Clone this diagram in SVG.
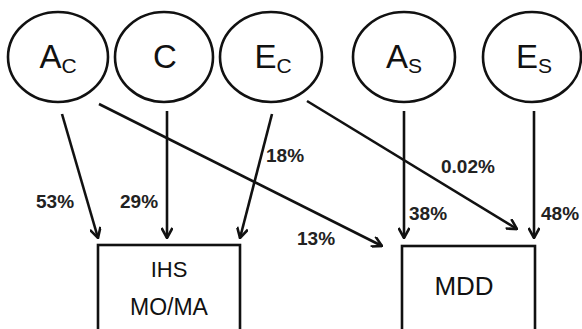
<svg xmlns="http://www.w3.org/2000/svg" width="582" height="329" viewBox="0 0 582 329">
<style>
.n{fill:#fff;stroke:#111;stroke-width:2.6}
.t{font-family:"Liberation Sans",Arial,sans-serif;fill:#111;text-anchor:middle}
.big{font-size:33px}
.sub{font-size:21px}
.c{stroke:#111;stroke-width:2.6;fill:none;marker-end:url(#ah)}
.l{font-family:"Liberation Sans",Arial,sans-serif;font-weight:bold;font-size:19px;fill:#222}
</style>
<defs>
<marker id="ah" viewBox="0 0 12 12" refX="11" refY="6" markerWidth="12" markerHeight="12" markerUnits="userSpaceOnUse" orient="auto">
<path d="M1,0.5 L11,6 L1,11.5" fill="none" stroke="#111" stroke-width="2.6"/>
</marker>
</defs>
<rect width="582" height="329" fill="#fff"/>
<g id="connectors">
<line class="c" x1="62" y1="114" x2="98" y2="238"/>
<line class="c" x1="167" y1="111" x2="167" y2="238"/>
<line class="c" x1="272" y1="114" x2="240" y2="238"/>
<line class="c" x1="99" y1="104" x2="382" y2="246"/>
<line class="c" x1="307" y1="101" x2="517" y2="229"/>
<line class="c" x1="404" y1="111" x2="404" y2="238"/>
<line class="c" x1="534" y1="111" x2="534" y2="238"/>
</g>
<g id="labels">
<text class="l" x="36" y="208">53%</text>
<text class="l" x="120" y="208">29%</text>
<text class="l" x="266" y="162">18%</text>
<text class="l" x="297" y="245">13%</text>
<text class="l" x="441" y="173">0.02%</text>
<text class="l" x="409" y="220">38%</text>
<text class="l" x="541" y="220">48%</text>
</g>
<g id="Ac"><ellipse class="n" cx="58" cy="57" rx="50" ry="45"/><text class="t big" x="58" y="68">A<tspan class="sub" dy="5">C</tspan></text></g>
<g id="C"><ellipse class="n" cx="164" cy="57" rx="49" ry="45"/><text class="t big" x="165" y="68">C</text></g>
<g id="Ec"><ellipse class="n" cx="271" cy="57" rx="51" ry="45"/><text class="t big" x="273" y="68">E<tspan class="sub" dy="5">C</tspan></text></g>
<g id="As"><ellipse class="n" cx="404" cy="57" rx="51" ry="45"/><text class="t big" x="404" y="68">A<tspan class="sub" dy="5">S</tspan></text></g>
<g id="Es"><ellipse class="n" cx="532" cy="57" rx="49" ry="45"/><text class="t big" x="534" y="68">E<tspan class="sub" dy="5">S</tspan></text></g>
<g id="IHS"><rect class="n" x="98" y="245" width="142" height="90"/><text class="t" font-size="22" x="169" y="277">IHS</text><text class="t" font-size="23" x="169" y="315">MO/MA</text></g>
<g id="MDD"><rect class="n" x="402" y="246" width="133" height="90"/><text class="t" font-size="26" x="464" y="295">MDD</text></g>
</svg>
